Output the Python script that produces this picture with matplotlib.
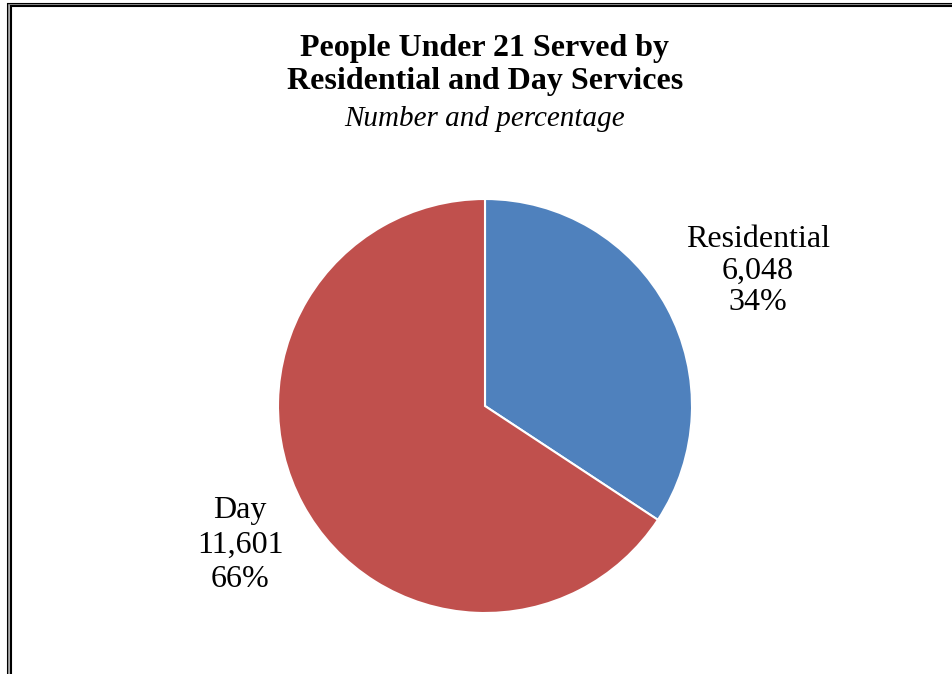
import matplotlib.pyplot as plt
from matplotlib.patches import Rectangle

labels = ['Residential', 'Day']
values = [6048, 11601]
colors = ['#4F81BD', '#C0504D']

plt.rcParams['font.family'] = 'Liberation Serif'

W, H = 952, 674
fig = plt.figure(figsize=(W / 100, H / 100), dpi=100)

# double border on left and top edges
for off, lw, col in [(7.5, 1.5, 'black'), (9, 1.2, '#aaaaaa'), (10.5, 1.5, 'black')]:
    top = 1 - (off - 4) / H
    fig.add_artist(Rectangle((off / W, -0.1), 1.2, top + 0.1,
                             transform=fig.transFigure, fill=False, lw=lw, ec=col))

ax = fig.add_axes([(485 - 207) / W, (H - 613) / H, 414 / W, 414 / H])
total = sum(values)
ax.pie(values, colors=colors, startangle=90, counterclock=False,
       wedgeprops=dict(edgecolor='white', linewidth=1.5))
ax.set_xlim(-1, 1)
ax.set_ylim(-1, 1)
ax.set_aspect('equal')

fig.text(485 / W, 1 - 65 / H, 'People Under 21 Served by\nResidential and Day Services',
         ha='center', va='center', fontsize=23, fontweight='bold', linespacing=1.22)
fig.text(485 / W, 1 - 119 / H, 'Number and percentage', ha='center', va='center',
         fontsize=21, style='italic')

pos = {'Residential': (758, 271, 1.12), 'Day': (240, 545, 1.25)}
for lab, v in zip(labels, values):
    x, y, ls = pos[lab]
    fig.text(x / W, 1 - y / H, f'{lab}\n{v:,}\n{v / total:.0%}', ha='center', va='center',
             fontsize=23, linespacing=ls)

fig.savefig('out.png', dpi=100)
